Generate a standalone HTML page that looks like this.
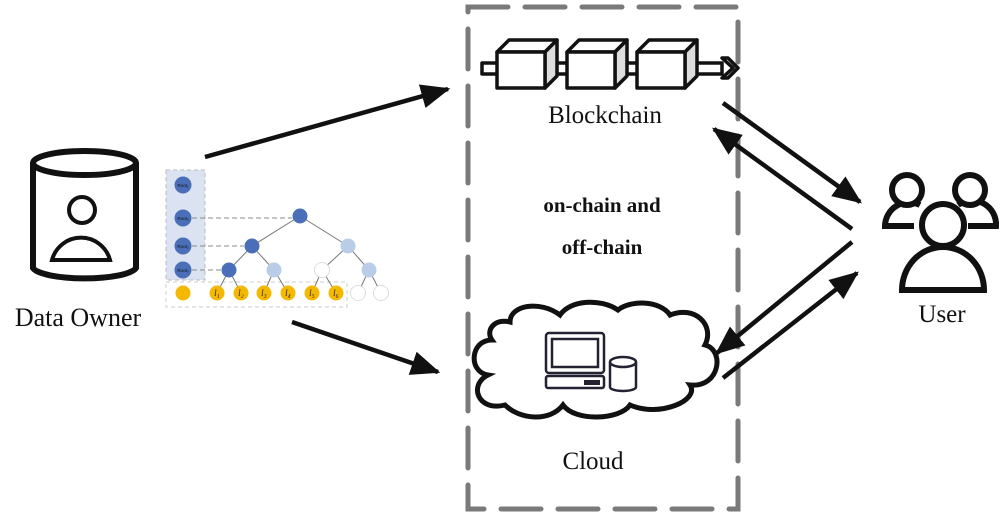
<!DOCTYPE html>
<html><head><meta charset="utf-8"><style>html,body{margin:0;padding:0;background:#fff}svg{display:block}</style></head>
<body>
<svg width="1006" height="518" viewBox="0 0 1006 518" xmlns="http://www.w3.org/2000/svg">
<defs>
<marker id="ah" viewBox="0 0 12 10" refX="11" refY="5" markerWidth="6.5" markerHeight="6" orient="auto" markerUnits="strokeWidth"><path d="M0,0 L12,5 L0,10 Z" fill="#111"/></marker>
</defs>
<rect x="468" y="7" width="270" height="502" fill="none" stroke="#7a7a7a" stroke-width="5" stroke-dasharray="40,17" stroke-linecap="round"/>

<g stroke="#111" stroke-width="4.5" fill="none" marker-end="url(#ah)">
<line x1="205" y1="157" x2="448" y2="89"/>
<line x1="292" y1="322" x2="438" y2="372"/>
<line x1="723" y1="103" x2="860" y2="202"/>
<line x1="852" y1="229" x2="714" y2="129"/>
<line x1="852" y1="242" x2="717" y2="353"/>
<line x1="723" y1="378" x2="857" y2="273"/>
</g>

<g stroke="#111" stroke-width="6" fill="none">
<path d="M33,163 L33,268 A52,12 0 0 0 136,268 L136,163"/>
<ellipse cx="84.5" cy="163" rx="51.5" ry="12"/>
</g>
<g stroke="#111" stroke-width="4" fill="none">
<circle cx="82" cy="210" r="13"/>
<path d="M52,260 A30,30 0 0 1 110,260 Z"/>
</g>
<text x="78" y="326" font-family="Liberation Serif, serif" font-size="26" text-anchor="middle" fill="#111">Data Owner</text>

<rect x="166" y="170" width="39" height="110" fill="#dbe3f2" stroke="#bbb" stroke-dasharray="4,3"/>
<rect x="166" y="282" width="181" height="25" fill="none" stroke="#ccc" stroke-dasharray="4,3"/>
<g stroke="#888" stroke-width="1" stroke-dasharray="5,3">
<line x1="192" y1="218" x2="292" y2="218"/>
<line x1="192" y1="246" x2="244" y2="246"/>
<line x1="192" y1="270" x2="221" y2="270"/>
</g>
<g stroke="#777" stroke-width="1">
<line x1="300" y1="216" x2="252" y2="246"/><line x1="300" y1="216" x2="348" y2="246"/>
<line x1="252" y1="246" x2="229" y2="270"/><line x1="252" y1="246" x2="274" y2="270"/>
<line x1="348" y1="246" x2="322" y2="270"/><line x1="348" y1="246" x2="369" y2="270"/>
<line x1="229" y1="270" x2="217" y2="293"/><line x1="229" y1="270" x2="241" y2="293"/>
<line x1="274" y1="270" x2="264" y2="293"/><line x1="274" y1="270" x2="288" y2="293"/>
<line x1="322" y1="270" x2="312" y2="293"/><line x1="322" y1="270" x2="336" y2="293"/>
<line x1="369" y1="270" x2="358" y2="293"/><line x1="369" y1="270" x2="381" y2="293"/>
</g>
<g fill="#4a6fb8">
<circle cx="183" cy="185" r="8.5"/><circle cx="183" cy="218" r="8.5"/><circle cx="183" cy="246" r="8.5"/><circle cx="183" cy="270" r="8.5"/>
<circle cx="300" cy="216" r="7.5"/><circle cx="252" cy="246" r="7.5"/><circle cx="229" cy="270" r="7.5"/>
</g>
<g fill="#b9cde8"><circle cx="348" cy="246" r="7.5"/><circle cx="274" cy="270" r="7.5"/><circle cx="369" cy="270" r="7.5"/></g>
<g fill="#fff" stroke="#ddd"><circle cx="322" cy="270" r="7.5"/><circle cx="358" cy="293" r="7.5"/><circle cx="381" cy="293" r="7.5"/></g>
<g fill="#f5b800"><circle cx="183" cy="293" r="7.5"/><circle cx="217" cy="293" r="7.5"/><circle cx="241" cy="293" r="7.5"/><circle cx="264" cy="293" r="7.5"/><circle cx="288" cy="293" r="7.5"/><circle cx="312" cy="293" r="7.5"/><circle cx="336" cy="293" r="7.5"/></g>
<g font-family="Liberation Sans, sans-serif" font-size="4.5" fill="#111" text-anchor="middle">
<text x="183" y="187">Root₁</text><text x="183" y="220">Root₃</text><text x="183" y="248">Root₂</text><text x="183" y="272">Root₀</text>
</g>
<g font-family="Liberation Serif, serif" font-style="italic" font-size="9" fill="#222" text-anchor="middle">
<text x="217" y="296">l₁</text><text x="241" y="296">l₂</text><text x="264" y="296">l₃</text><text x="288" y="296">l₄</text><text x="312" y="296">l₅</text><text x="336" y="296">l₆</text>
</g>

<g stroke="#111" stroke-width="3.5" stroke-linejoin="round">
<rect x="482" y="63" width="240" height="11" fill="#fff"/>
<path d="M722,58 L733,68 L722,78 L728,78 L738,68 L728,58 Z" fill="#fff"/>
<g fill="#fff">
<path d="M497,52 L509,40 L557,40 L545,52 Z"/><path d="M545,52 L557,40 L557,76 L545,88 Z" fill="#ddd"/><rect x="497" y="52" width="48" height="36"/>
<path d="M567,52 L579,40 L627,40 L615,52 Z"/><path d="M615,52 L627,40 L627,76 L615,88 Z" fill="#ddd"/><rect x="567" y="52" width="48" height="36"/>
<path d="M637,52 L649,40 L697,40 L685,52 Z"/><path d="M685,52 L697,40 L697,76 L685,88 Z" fill="#ddd"/><rect x="637" y="52" width="48" height="36"/>
</g>
</g>
<text x="605" y="123" font-family="Liberation Serif, serif" font-size="25" text-anchor="middle" fill="#111">Blockchain</text>
<text x="602" y="212" font-family="Liberation Serif, serif" font-size="21" font-weight="bold" text-anchor="middle" fill="#111">on-chain and</text>
<text x="602" y="254" font-family="Liberation Serif, serif" font-size="21" font-weight="bold" text-anchor="middle" fill="#111">off-chain</text>

<path d="M492,340 C470,340 468,372 488,375 C468,385 478,412 505,405 C520,420 550,422 563,405 C575,422 620,420 630,405 C660,418 700,400 690,385 C720,388 725,350 705,345 C715,325 695,305 670,315 C660,300 630,300 618,310 C600,298 570,300 560,315 C540,300 510,305 510,322 C495,318 485,330 492,340 Z" fill="#fff" stroke="#111" stroke-width="5"/>
<g stroke="#223" stroke-width="2.5" fill="none">
<rect x="546" y="333" width="58" height="40" rx="3"/><rect x="552" y="339" width="46" height="28"/>
<rect x="546" y="376" width="58" height="12" rx="2"/>
<path d="M610,362 L610,387 A13,4 0 0 0 636,387 L636,362"/><ellipse cx="623" cy="362" rx="13" ry="5"/>
</g>
<rect x="584" y="380" width="16" height="5" fill="#223"/>
<text x="593" y="469" font-family="Liberation Serif, serif" font-size="25" text-anchor="middle" fill="#111">Cloud</text>

<g stroke="#111" stroke-width="6" fill="none" stroke-linecap="butt">
<path d="M914,226 L885,226 A24,24 0 0 1 920,205"/>
<circle cx="907" cy="190" r="15" fill="#fff"/>
<path d="M968,226 L996,226 A24,24 0 0 0 958,205"/>
<circle cx="970" cy="190" r="15" fill="#fff"/>
<path d="M902,290 A40,42 0 0 1 984,290 Z" fill="#fff"/>
<circle cx="943" cy="225" r="21" fill="#fff"/>
</g>
<text x="942" y="322" font-family="Liberation Serif, serif" font-size="25" text-anchor="middle" fill="#111">User</text>
</svg>
</body></html>
